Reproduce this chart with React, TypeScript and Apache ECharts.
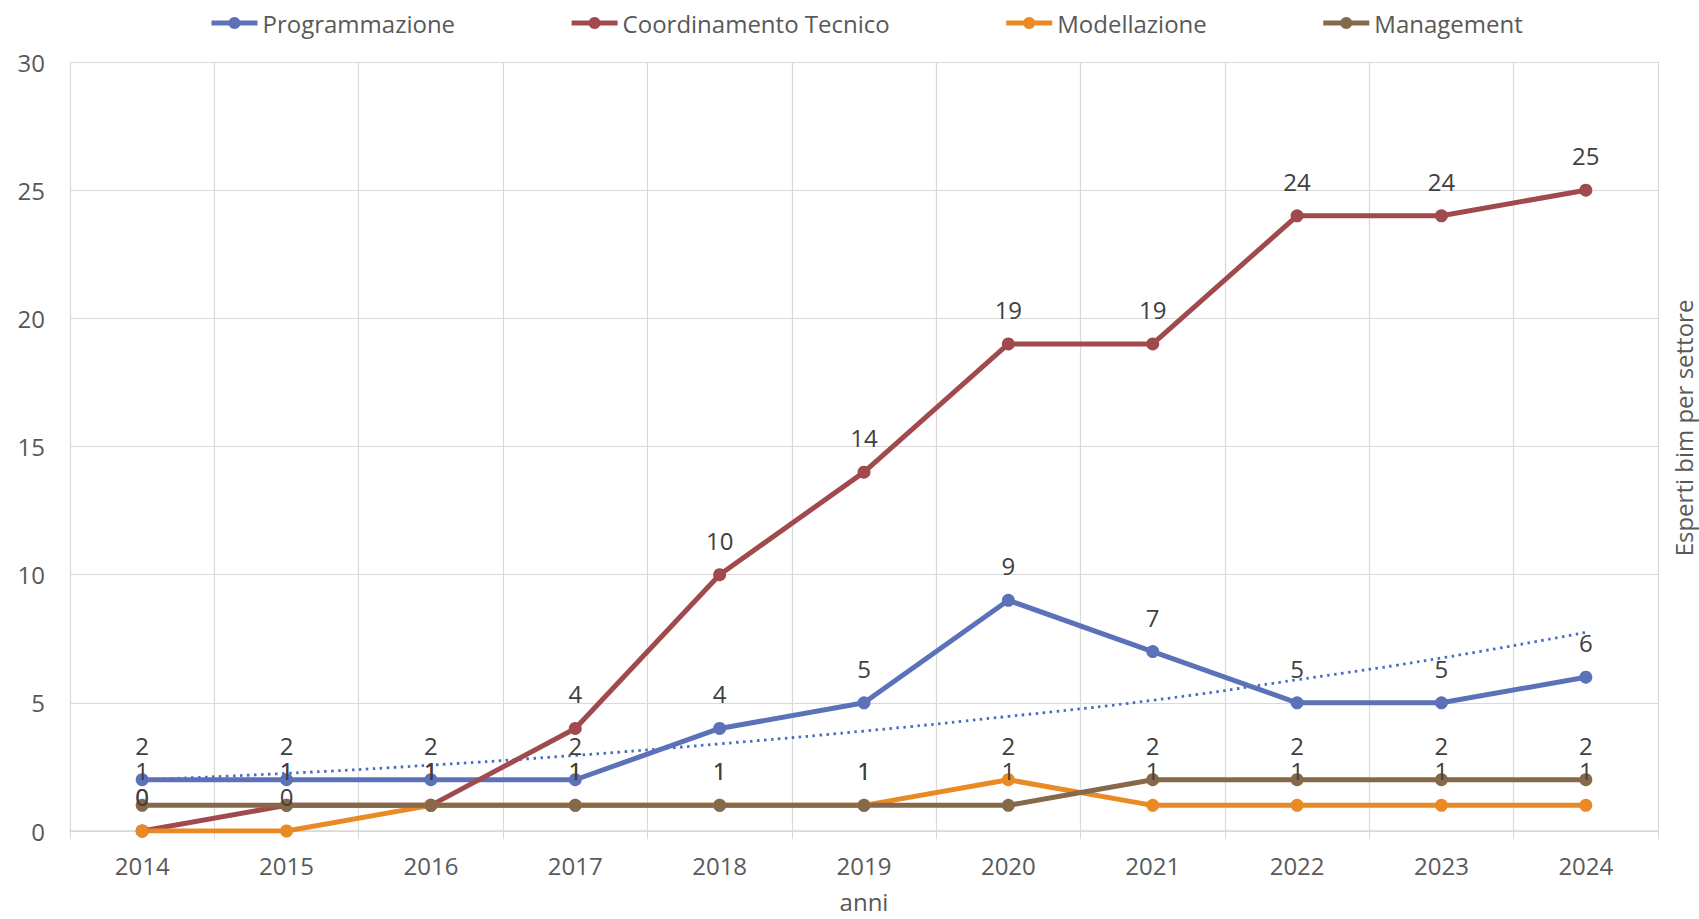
import React, { useEffect, useRef } from "react";
import * as echarts from "echarts";

const years = ["2014", "2015", "2016", "2017", "2018", "2019", "2020", "2021", "2022", "2023", "2024"];
const programmazione = [2, 2, 2, 2, 4, 5, 9, 7, 5, 5, 6];
const coordinamento = [0, 1, 1, 4, 10, 14, 19, 19, 24, 24, 25];
const modellazione = [0, 0, 1, 1, 1, 1, 2, 1, 1, 1, 1];
const management = [1, 1, 1, 1, 1, 1, 1, 2, 2, 2, 2];
const trendProgrammazione = [2.0, 2.25, 2.57, 2.95, 3.4, 3.9, 4.47, 5.1, 5.9, 6.75, 7.75];

const FONT = "'Open Sans', 'Noto Sans', sans-serif";

export default function App() {
  const ref = useRef<HTMLDivElement>(null);
  useEffect(() => {
    if (!ref.current) return;
    const chart = echarts.init(ref.current, null, { renderer: "svg" });
    const label = {
      show: true,
      position: "top",
      distance: 16,
      color: "#404040",
      fontSize: 24,
      fontFamily: FONT,
    };
    const mk = (name: string, data: number[], color: string) => ({
      name,
      type: "line",
      data,
      symbol: "circle",
      symbolSize: 13,
      lineStyle: { width: 5, color },
      itemStyle: { color },
      label,
    });
    chart.setOption({
      animation: false,
      textStyle: { fontFamily: FONT },
      legend: {
        top: 6,
        left: 204,
        data: ["Programmazione", "Coordinamento Tecnico", "Modellazione", "Management"],
        itemWidth: 46,
        itemHeight: 15,
        itemGap: 114,
        lineStyle: { width: 5 },
        textStyle: { fontSize: 24, color: "#595959", fontFamily: FONT },
      },
      grid: { left: 70, right: 41, top: 62, bottom: 88, containLabel: false },
      xAxis: {
        type: "category",
        data: years,
        boundaryGap: true,
        name: "anni",
        nameLocation: "middle",
        nameGap: 58,
        nameTextStyle: { fontSize: 24, color: "#595959", fontFamily: FONT },
        axisLine: { lineStyle: { color: "#d9d9d9", width: 1.5 } },
        axisTick: { show: true, length: 8, lineStyle: { color: "#d9d9d9" } },
        axisLabel: { fontSize: 24, color: "#595959", margin: 22, fontFamily: FONT },
        splitLine: { show: true, lineStyle: { color: "#d9d9d9", width: 1.2 } },
      },
      yAxis: {
        type: "value",
        min: 0,
        max: 30,
        interval: 5,
        axisLine: { show: false },
        axisTick: { show: false },
        axisLabel: { fontSize: 24, color: "#595959", margin: 25, fontFamily: FONT },
        splitLine: { show: true, lineStyle: { color: "#d9d9d9", width: 1.2 } },
      },
      graphic: [
        {
          type: "text",
          x: 1683,
          y: 428,
          rotation: Math.PI / 2,
          style: {
            text: "Esperti bim per settore",
            fontSize: 24,
            fontFamily: FONT,
            fill: "#595959",
            textAlign: "center",
            textVerticalAlign: "middle",
          },
        },
      ],
      series: [
        {
          name: "Tendenza Programmazione",
          type: "line",
          data: trendProgrammazione,
          symbol: "none",
          smooth: true,
          lineStyle: { width: 2.8, type: [2.5, 4.5], color: "#4a6bc0" },
          silent: true,
          z: 1,
        },
        mk("Programmazione", programmazione, "#5b72b8"),
        mk("Coordinamento Tecnico", coordinamento, "#a04a4d"),
        mk("Modellazione", modellazione, "#e98a24"),
        mk("Management", management, "#86684a"),
      ],
    });
    return () => chart.dispose();
  }, []);
  return (
    <div
      ref={ref}
      style={{ position: "absolute", left: 0, top: 0, width: 1699, height: 919, background: "#fff" }}
    />
  );
}
